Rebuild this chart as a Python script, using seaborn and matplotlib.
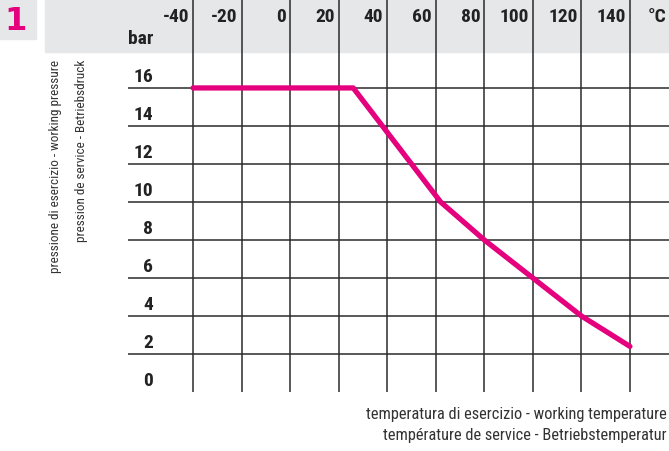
import numpy as np
import pandas as pd
import seaborn as sns
import matplotlib.pyplot as plt
import matplotlib.transforms as mtransforms
from matplotlib import font_manager
from matplotlib.patches import Rectangle

# values
temp_ticks = [-40, -20, 0, 20, 40, 60, 80, 100, 120, 140]
bar_ticks = [0, 2, 4, 6, 8, 10, 12, 14, 16]
temperature = [-40, 26, 38, 50, 62, 80, 100, 120, 140]
pressure = [16, 16, 14, 12, 10, 8, 6, 4, 2.4]

ylabel_lines = ["pressione di esercizio - working pressure",
                "pression de service - Betriebsdruck"]
xlabel_lines = ["temperatura di esercizio - working temperature",
                "température de service - Betriebstemperatur"]

MAGENTA = "#e5007d"
GREY = "#e6e7e8"
GRID = "#2b2b2b"
TEXT = "#222222"

sns.set_style("white")
# narrow font if one is there, else Roboto
installed = {f.name for f in font_manager.fontManager.ttflist}
main_font = "DejaVu Sans"
for cand in ["Liberation Sans Narrow", "Roboto Condensed", "Roboto"]:
    if cand in installed:
        main_font = cand
        break
plt.rcParams['font.family'] = [main_font, 'DejaVu Sans']

W, H = 669, 452
fig = plt.figure(figsize=(W / 100, H / 100), dpi=100)

# grey header band and number badge
fig.patches.append(Rectangle((45 / W, 1 - 53 / H), (W - 45) / W, 53 / H,
                             transform=fig.transFigure, color=GREY, zorder=-2))
fig.patches.append(Rectangle((0, 1 - 40 / H), 36 / W, 40 / H,
                             transform=fig.transFigure, color=GREY, zorder=-2))
fig.text(16 / W, 1 - 21 / H, "1", color=MAGENTA, fontsize=23, fontweight='bold',
         ha='center', va='center', family=['DejaVu Sans'])

ax = fig.add_axes([128 / W, (H - 393) / H, (W - 128) / W, 393 / H])
ax.patch.set_visible(False)
xmin, xmax = -66.8, 156.1
ymin, ymax = 0, 20.68
ax.set_xlim(xmin, xmax)
ax.set_ylim(ymin, ymax)
ax.axis('off')

ax.vlines(temp_ticks, ymin, ymax, color=GRID, lw=1.1, zorder=1)
ax.hlines(bar_ticks[1:], xmin, xmax, color=GRID, lw=1.1, zorder=1)

df = pd.DataFrame({"temp": temperature, "bar": pressure})
sns.lineplot(data=df, x="temp", y="bar", ax=ax, color=MAGENTA, lw=3.8,
             sort=False, zorder=3)

# top temperature labels: right aligned just left of each line
top_y = (393 - 17) / 19
tr_top = mtransforms.offset_copy(ax.transData, fig=fig, x=-4, y=0, units='dots')
for t in temp_ticks:
    ax.text(t, top_y, str(t), transform=tr_top, ha='right', va='center',
            fontsize=14, fontweight='bold', color=TEXT)
tr_c = mtransforms.offset_copy(ax.transData, fig=fig, x=37, y=0, units='dots')
ax.text(140, top_y, "°C", transform=tr_c, ha='right', va='center',
        fontsize=14, fontweight='bold', color=TEXT)

# pressure labels sitting on each line
tr_left = mtransforms.offset_copy(ax.transData, fig=fig, x=-40, y=3, units='dots')
for b in bar_ticks:
    ax.text(-40, b, str(b), transform=tr_left, ha='right', va='bottom',
            fontsize=14, fontweight='bold', color=TEXT)
ax.text(-40, (393 - 47) / 19, "bar", transform=tr_left, ha='right',
        va='baseline', fontsize=14, fontweight='bold', color=TEXT)

# axis titles
fig.text(56 / W, 1 - 60 / H, ylabel_lines[0], rotation=90, ha='center',
         va='top', fontsize=9.5, color="#333333")
fig.text(81 / W, 1 - 60 / H, ylabel_lines[1], rotation=90, ha='center',
         va='top', fontsize=9.5, color="#333333")
fig.text(667 / W, 1 - 415 / H, xlabel_lines[0], ha='right', va='center',
         fontsize=11.8, color="#333333")
fig.text(667 / W, 1 - 436 / H, xlabel_lines[1], ha='right', va='center',
         fontsize=11.8, color="#333333")

fig.savefig("out.png", dpi=100)
